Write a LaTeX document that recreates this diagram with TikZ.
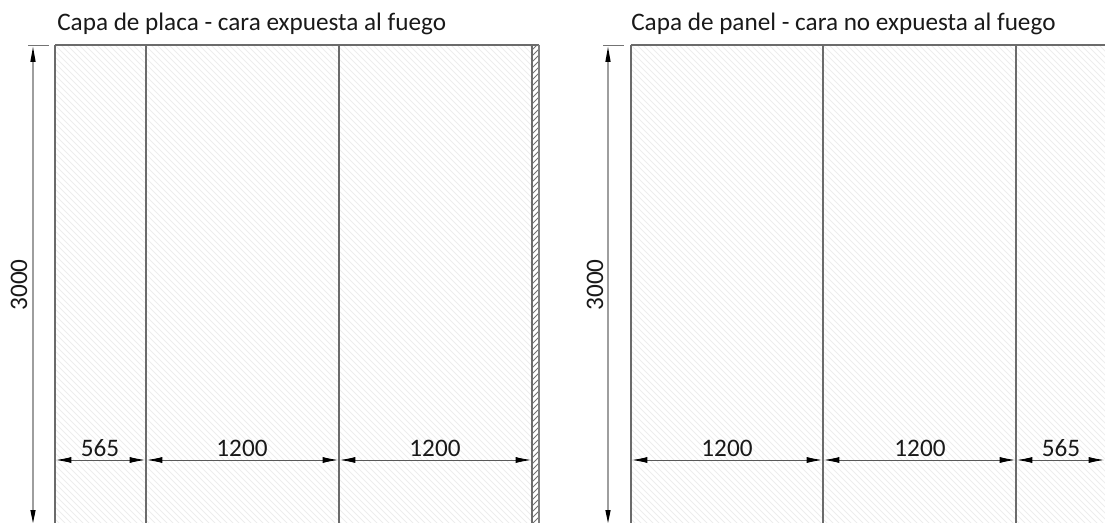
\documentclass[tikz,border=0pt]{standalone}
\usepackage{fontspec}
\setmainfont{Carlito}
\usetikzlibrary{arrows.meta}
\tikzset{
  x=0.75pt,y=-0.75pt,
  frame/.style={draw=black!58,line width=1.1pt},
  thin frame/.style={draw=black!50,line width=0.8pt},
  hatchline/.style={draw=black!7,line width=0.6pt},
  striphatch/.style={draw=black!55,line width=0.6pt},
  dimH/.style={draw=black!65,line width=0.6pt,{Latex[length=11.5pt,width=4.5pt,fill=black,black]}-{Latex[length=11.5pt,width=4.5pt,fill=black,black]}},
  dimV/.style={draw=black!38,line width=1pt},
  tipUp/.style={draw=none,fill=black},
  dimtext/.style={font=\fontsize{18.9}{22}\selectfont,text=black!90,inner sep=0pt},
  titletext/.style={font=\fontsize{18.9}{22}\selectfont,text=black!90,inner sep=0pt,anchor=base west},
  tick/.style={draw=black!55,line width=0.6pt},
}
\begin{document}
\begin{tikzpicture}
\useasboundingbox (0,0) rectangle (1105,523);
\begin{scope}
\clip (55,45) rectangle (532,523);
\foreach \k in {-480,-474,...,480}{\draw[hatchline] (55+\k,45) -- (555+\k,545);}
\end{scope}
\begin{scope}
\clip (631,45) rectangle (1105,523);
\foreach \k in {-480,-474,...,480}{\draw[hatchline] (631+\k,45) -- (1131+\k,545);}
\end{scope}
\begin{scope}
\clip (533,45) rectangle (539,523);
\foreach \k in {0,6,...,490}{\draw[striphatch] (525,45+\k) -- (545,25+\k);}
\end{scope}
\coordinate (La) at (55,45);\coordinate (Lb) at (146,45);\coordinate (Lc) at (339,45);\coordinate (Ld) at (532,45);\coordinate (Le) at (539,45);
\coordinate (La') at (55,523);\coordinate (Lb') at (146,523);\coordinate (Lc') at (339,523);\coordinate (Ld') at (532,523);\coordinate (Le') at (539,523);
\coordinate (Ra) at (631,45);\coordinate (Rb) at (823,45);\coordinate (Rc) at (1016,45);\coordinate (Rd) at (1105,45);
\coordinate (Ra') at (631,523);\coordinate (Rb') at (823,523);\coordinate (Rc') at (1016,523);
\draw[frame] (La) -- (Le);
\draw[frame] (La) -- (La');
\draw[frame] (Lb) -- (Lb');
\draw[frame] (Lc) -- (Lc');
\draw[frame] (Ld) -- (Ld');
\draw[thin frame] (Le) -- (Le');
\draw[frame] (Ra) -- (Rd);
\draw[frame] (Ra) -- (Ra');
\draw[frame] (Rb) -- (Rb');
\draw[frame] (Rc) -- (Rc');
\coordinate (d1) at (56,460);\coordinate (d2) at (145,460);\coordinate (d3) at (147,460);\coordinate (d4) at (338,460);\coordinate (d5) at (340,460);\coordinate (d6) at (531,460);
\draw[dimH] (d1) -- (d2);\draw[dimH] (d3) -- (d4);\draw[dimH] (d5) -- (d6);
\coordinate (e1) at (632,460);\coordinate (e2) at (822,460);\coordinate (e3) at (824,460);\coordinate (e4) at (1015,460);\coordinate (e5) at (1017,460);\coordinate (e6) at (1104,460);
\draw[dimH] (e1) -- (e2);\draw[dimH] (e3) -- (e4);\draw[dimH] (e5) -- (e6);
\draw[tick] (28,45) -- (49,45);\draw[tick] (603,45) -- (624,45);
\draw[dimV] (33,60) -- (33,510);\draw[dimV] (608,60) -- (608,510);
\fill[tipUp] (33,47) -- (30.3,62) -- (35.7,62) -- cycle;
\fill[tipUp] (33,523) -- (30.3,510) -- (35.7,510) -- cycle;
\fill[tipUp] (608,47) -- (605.3,62) -- (610.7,62) -- cycle;
\fill[tipUp] (608,523) -- (605.3,510) -- (610.7,510) -- cycle;
\node[titletext] (t1) at (57,31) {Capa de placa - cara expuesta al fuego};
\node[titletext] (t2) at (631,31) {Capa de panel - cara no expuesta al fuego};
\node[dimtext,rotate=90] (n1) at (19,285) {3000};
\node[dimtext,rotate=90] (n2) at (595,285) {3000};
\node[dimtext] (a1) at (100,448) {565};
\node[dimtext] (a2) at (242,448) {1200};
\node[dimtext] (a3) at (435,448) {1200};
\node[dimtext] (b1) at (727,448) {1200};
\node[dimtext] (b2) at (920,448) {1200};
\node[dimtext] (b3) at (1061,448) {565};
\end{tikzpicture}
\end{document}
